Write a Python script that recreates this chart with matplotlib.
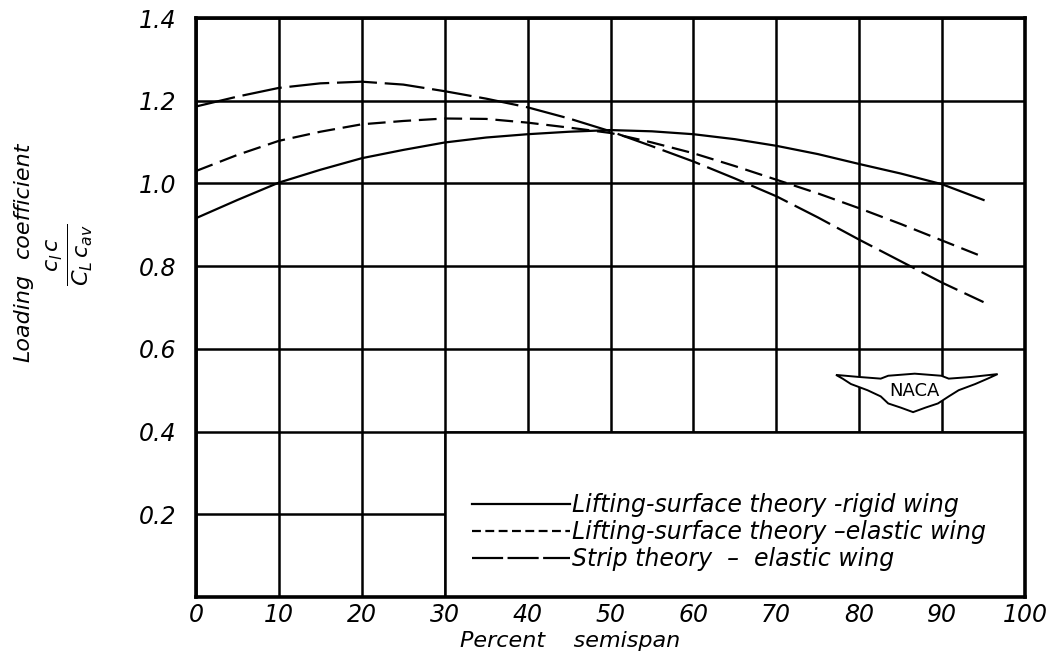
import numpy as np
import matplotlib.pyplot as plt
from matplotlib.patches import Rectangle, Polygon
from matplotlib.lines import Line2D

# values
span = [0, 5, 10, 15, 20, 25, 30, 35, 40, 45, 50, 55, 60, 65, 70, 75, 80, 85, 90, 95]
rigid = [0.916, 0.960, 1.002, 1.033, 1.061, 1.081, 1.099, 1.111, 1.119, 1.125,
         1.129, 1.126, 1.119, 1.107, 1.091, 1.071, 1.047, 1.024, 0.998, 0.960]
elastic = [1.030, 1.069, 1.103, 1.125, 1.143, 1.151, 1.157, 1.156, 1.147, 1.135,
           1.122, 1.099, 1.073, 1.042, 1.009, 0.976, 0.940, 0.902, 0.862, 0.822]
strip = [1.186, 1.210, 1.231, 1.242, 1.246, 1.239, 1.223, 1.205, 1.184, 1.157,
         1.126, 1.090, 1.053, 1.012, 0.969, 0.918, 0.864, 0.812, 0.760, 0.713]

labels = ["Lifting-surface theory -rigid wing",
          "Lifting-surface theory \u2013elastic wing",
          "Strip theory  \u2013  elastic wing"]

xticks = np.arange(0, 101, 10)
yticks = np.round(np.arange(0, 1.41, 0.2), 1)

font = dict(family='DejaVu Sans', style='italic')

fig = plt.figure(figsize=(10.57, 6.54), dpi=100)
ax = fig.add_axes([196/1057, 1-597/654, 829/1057, 579/654])

ax.set_xlim(0, 100)
ax.set_ylim(0, 1.4)
ax.set_xticks(xticks)
ax.set_yticks(yticks)
ax.set_xticklabels([str(t) for t in xticks], **font, fontsize=17)
ax.set_yticklabels([''] + ['%.1f' % t for t in yticks[1:]], **font, fontsize=17)
ax.tick_params(axis='x', length=0, pad=4)
ax.tick_params(axis='y', length=0, pad=14)
ax.grid(True, color='black', lw=1.8, zorder=0)
ax.set_axisbelow(True)
for s in ax.spines.values():
    s.set_linewidth(2.6)

lw = 1.6
ax.plot(span, rigid, color='black', lw=lw, zorder=3)
ax.plot(span, elastic, color='black', lw=lw, dashes=(8, 3.5), zorder=3)
ax.plot(span, strip, color='black', lw=lw, dashes=(18, 3.5), zorder=3)

# legend box sits over the grid in the lower right
ax.add_patch(Rectangle((30, 0), 70, 0.4, facecolor='white', edgecolor='black',
                       lw=1.8, zorder=1.5))
handles = [Line2D([], [], color='black', lw=lw),
           Line2D([], [], color='black', lw=lw, dashes=(4, 2)),
           Line2D([], [], color='black', lw=lw, dashes=(14, 2))]
leg = ax.legend(handles, labels, loc='center left', bbox_to_anchor=(33.3, 0.157),
                bbox_transform=ax.transData, frameon=False, borderpad=0,
                borderaxespad=0, handlelength=4.15, handletextpad=0.1,
                labelspacing=0.12, prop=dict(size=17, style='italic'))

# NACA wings logo
wing = [(77.2, 0.537), (80.0, 0.532), (82.6, 0.528), (83.5, 0.535), (86.7, 0.540),
        (89.9, 0.535), (90.8, 0.528), (93.5, 0.532), (96.7, 0.539), (95.5, 0.528),
        (94.0, 0.515), (92.0, 0.500), (90.8, 0.485), (89.5, 0.468), (88.0, 0.458),
        (86.5, 0.447), (85.0, 0.458), (83.5, 0.468), (82.6, 0.485), (81.0, 0.500),
        (79.0, 0.515), (78.0, 0.528)]
ax.add_patch(Polygon(wing, closed=True, facecolor='white', edgecolor='black',
                     lw=1.4, zorder=2))
ax.text(86.7, 0.497, 'NACA', ha='center', va='center', fontsize=13, zorder=4)

# axis titles
fig.text(23/1057, 1-318/654, 'Loading', rotation=90, ha='center', va='center',
         fontsize=16, **font)
fig.text(23/1057, 1-200/654, 'coefficient', rotation=90, ha='center', va='center',
         fontsize=16, **font)
fig.text(70/1057, 1-255/654, r'$\frac{c_l\,c}{C_L\,c_{av}}$', rotation=90,
         ha='center', va='center', fontsize=23)
fig.text(570/1057, 1-641/654, 'Percent    semispan', ha='center', va='center',
         fontsize=16, **font)

fig.savefig('out.png', dpi=100)
